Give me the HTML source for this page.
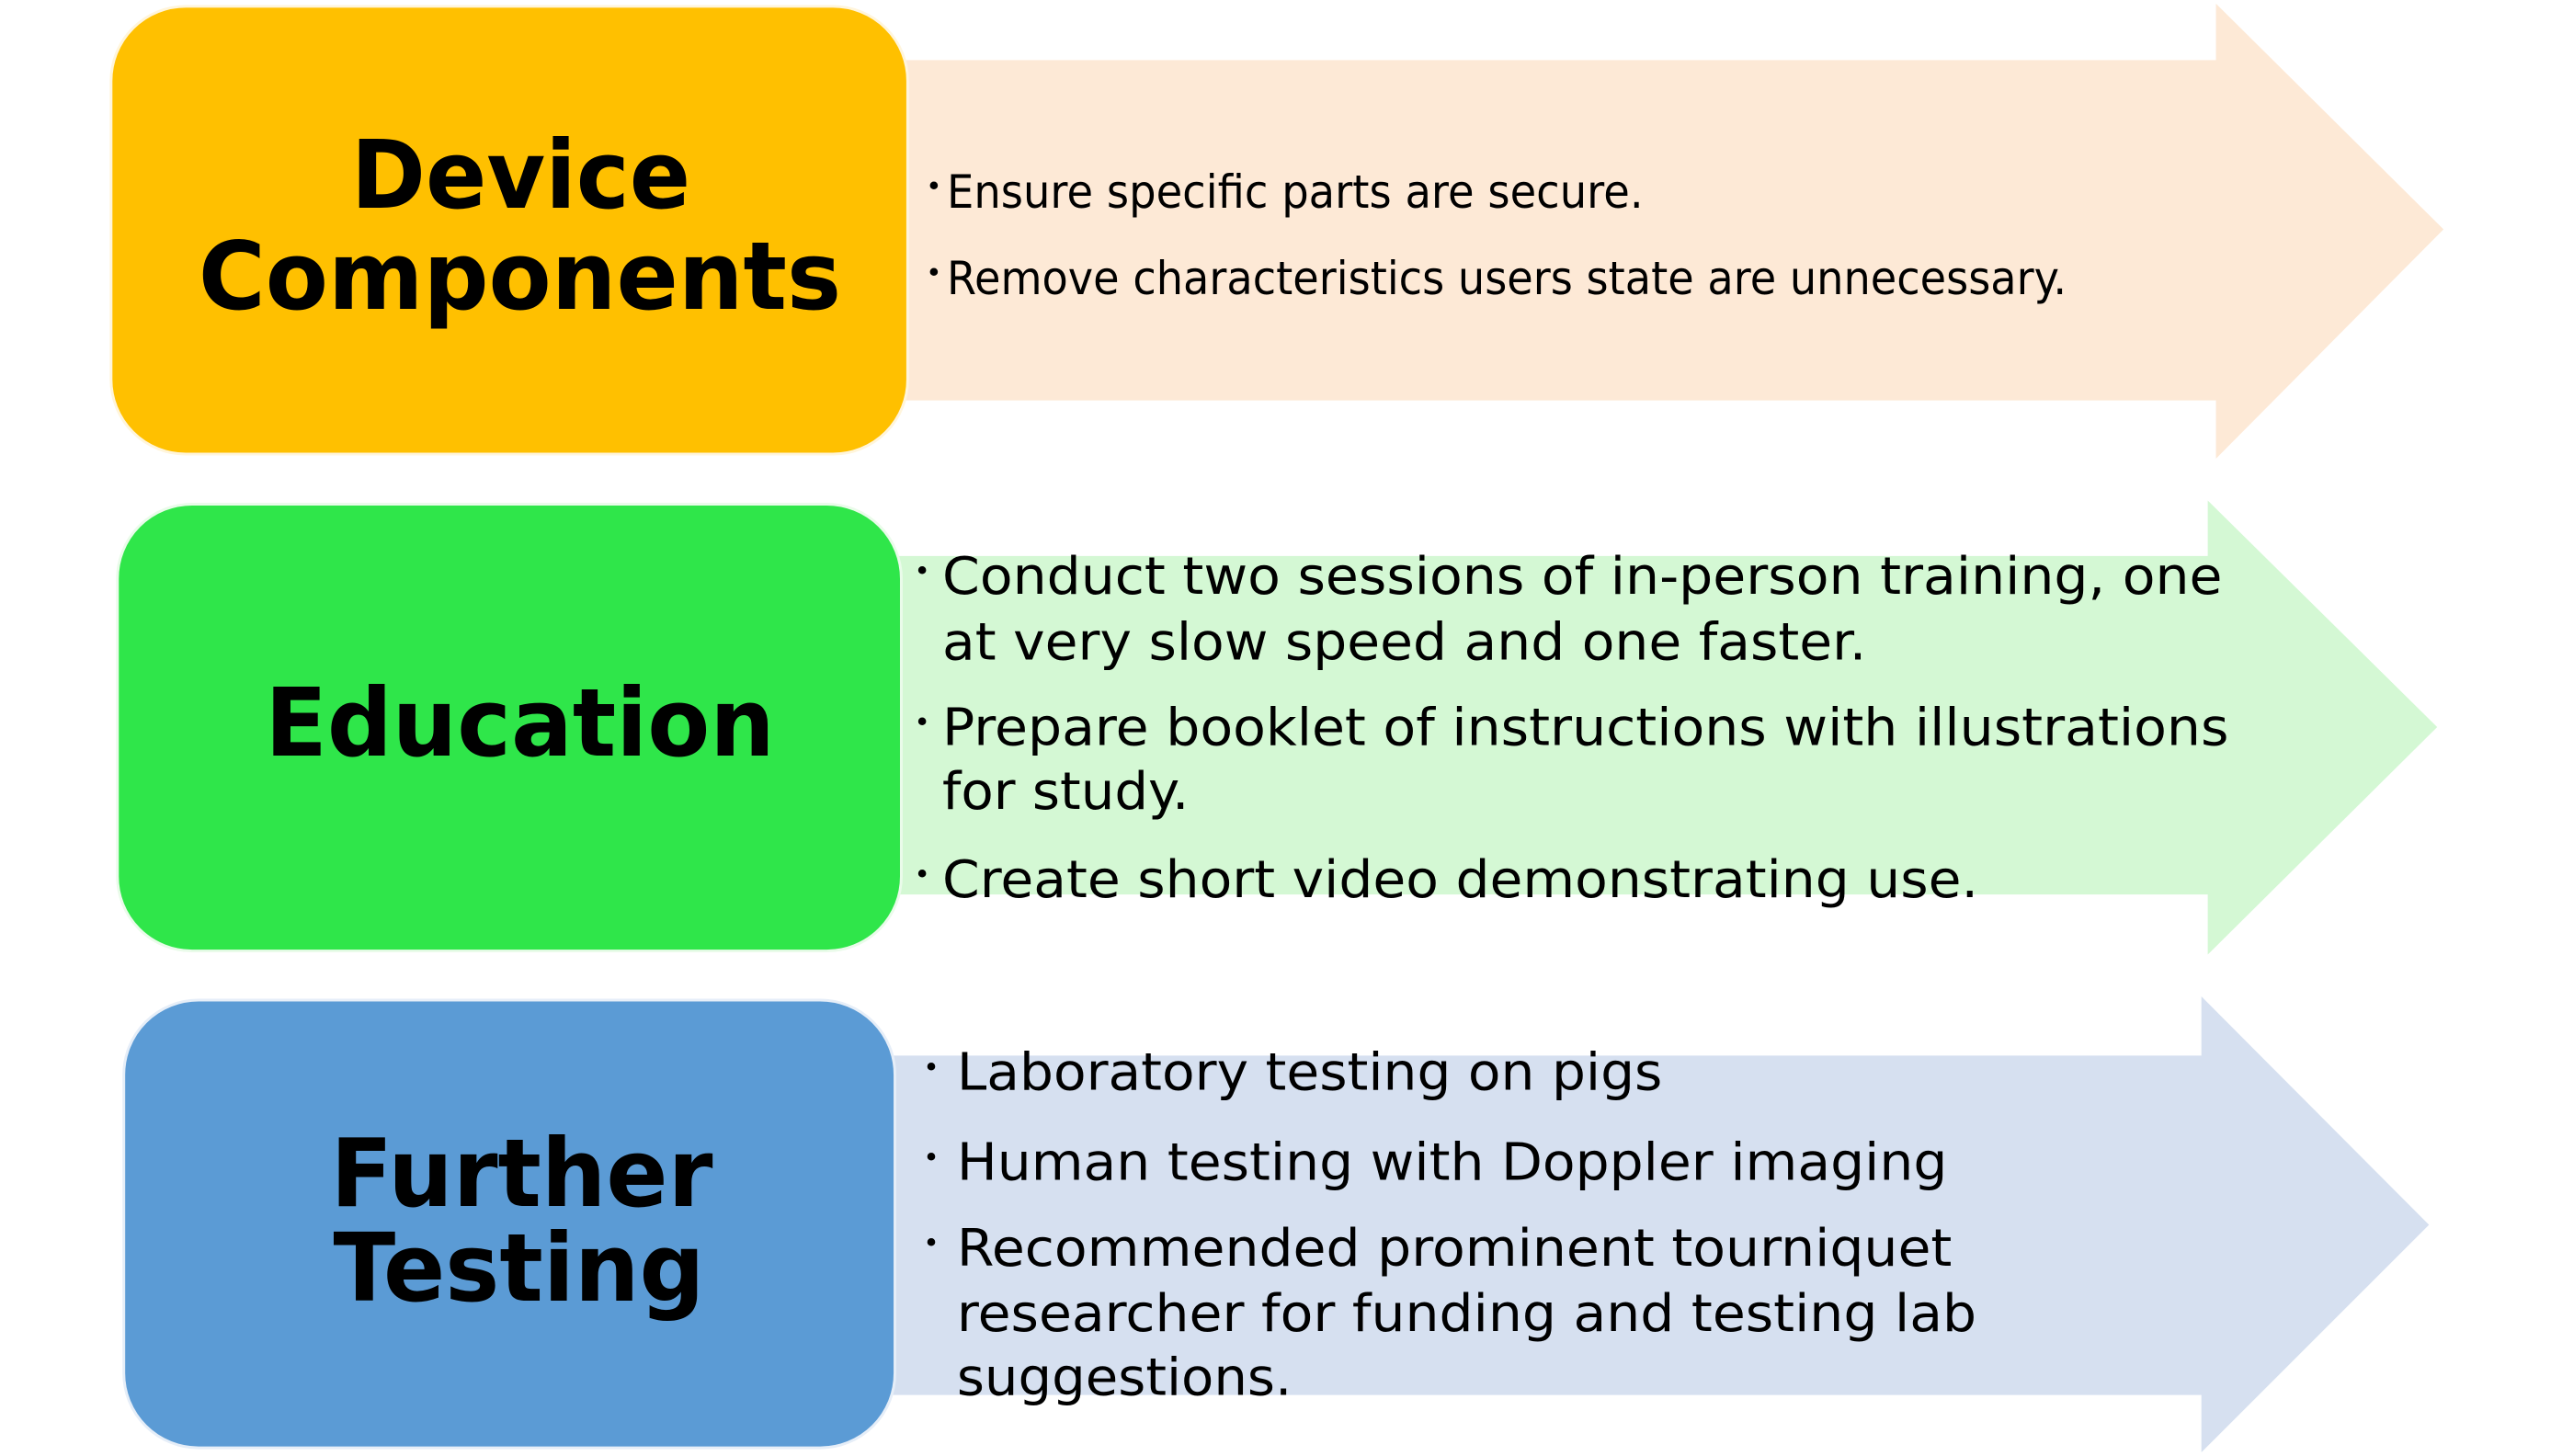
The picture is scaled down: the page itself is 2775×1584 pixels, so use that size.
<!DOCTYPE html>
<html><head><meta charset="utf-8"><style>html,body{margin:0;padding:0;background:#fff}svg{display:block}</style></head>
<body>
<svg width="2775" height="1584" viewBox="0 0 2802 1600" preserveAspectRatio="none" xmlns="http://www.w3.org/2000/svg" font-family="'DejaVu Sans','Liberation Sans',sans-serif">
<g>
<path d="M990 66 H2434 V4 L2684 252 L2434 504 V440 H990 Z" fill="#FDE9D6"/>
<rect x="122" y="7" width="875" height="492" rx="82" fill="#FFC000" stroke="#fff5dc" stroke-width="3"/>
<text font-weight="bold" font-size="104" text-anchor="middle" dominant-baseline="central"><tspan x="572" y="193" textLength="373" lengthAdjust="spacingAndGlyphs">Device</tspan><tspan x="571" y="304" textLength="706" lengthAdjust="spacingAndGlyphs">Components</tspan></text>
<g font-size="50" dominant-baseline="central">
<text x="1017" y="205" font-size="30">•</text>
<text x="1040" y="211" textLength="765" lengthAdjust="spacingAndGlyphs">Ensure specific parts are secure.</text>
<text x="1017" y="300" font-size="30">•</text>
<text x="1040" y="306" textLength="1230" lengthAdjust="spacingAndGlyphs">Remove characteristics users state are unnecessary.</text>
</g>
</g>
<g>
<path d="M985 611 H2425 V550 L2677 799 L2425 1049 V983 H985 Z" fill="#D4F8D4"/>
<rect x="129" y="554" width="861" height="491" rx="82" fill="#2FE64A" stroke="#eafbea" stroke-width="3"/>
<text x="571" y="795" font-weight="bold" font-size="104" text-anchor="middle" dominant-baseline="central" textLength="560" lengthAdjust="spacingAndGlyphs">Education</text>
<g font-size="57" dominant-baseline="central">
<text x="1004" y="628" font-size="30">•</text>
<text x="1035" y="634" textLength="1406" lengthAdjust="spacingAndGlyphs">Conduct two sessions of in-person training, one</text>
<text x="1035" y="706" textLength="1015" lengthAdjust="spacingAndGlyphs">at very slow speed and one faster.</text>
<text x="1004" y="794" font-size="30">•</text>
<text x="1035" y="800" textLength="1413" lengthAdjust="spacingAndGlyphs">Prepare booklet of instructions with illustrations</text>
<text x="1035" y="870" textLength="271" lengthAdjust="spacingAndGlyphs">for study.</text>
<text x="1004" y="961" font-size="30">•</text>
<text x="1035" y="967" textLength="1138" lengthAdjust="spacingAndGlyphs">Create short video demonstrating use.</text>
</g>
</g>
<g>
<path d="M980 1160 H2418 V1095 L2668 1346 L2418 1596 V1533 H980 Z" fill="#D6E0F0"/>
<rect x="136" y="1099" width="847" height="492" rx="82" fill="#5B9BD5" stroke="#e6eef8" stroke-width="3"/>
<text font-weight="bold" font-size="104" text-anchor="middle" dominant-baseline="central"><tspan x="573" y="1290" textLength="420" lengthAdjust="spacingAndGlyphs">Further</tspan><tspan x="570" y="1394" textLength="408" lengthAdjust="spacingAndGlyphs">Testing</tspan></text>
<g font-size="57" dominant-baseline="central">
<text x="1014" y="1173" font-size="30">•</text>
<text x="1051" y="1179" textLength="775" lengthAdjust="spacingAndGlyphs">Laboratory testing on pigs</text>
<text x="1014" y="1272" font-size="30">•</text>
<text x="1051" y="1278" textLength="1088" lengthAdjust="spacingAndGlyphs">Human testing with Doppler imaging</text>
<text x="1014" y="1366" font-size="30">•</text>
<text x="1051" y="1372" textLength="1093" lengthAdjust="spacingAndGlyphs">Recommended prominent tourniquet</text>
<text x="1051" y="1444" textLength="1120" lengthAdjust="spacingAndGlyphs">researcher for funding and testing lab</text>
<text x="1051" y="1514" textLength="368" lengthAdjust="spacingAndGlyphs">suggestions.</text>
</g>
</g>
</svg>
</body></html>
